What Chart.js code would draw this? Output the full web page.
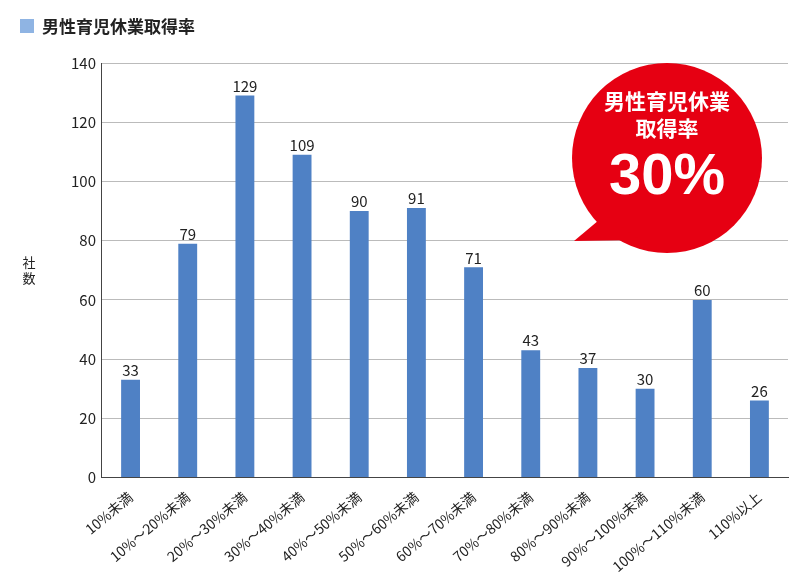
<!DOCTYPE html>
<html><head><meta charset="utf-8">
<script src="https://cdn.jsdelivr.net/npm/chart.js@4"></script>
<style>body{margin:0;background:#fff}#w{width:800px;height:582px}</style>
</head><body><div id="w"><canvas id="c"></canvas></div>
<script>
const categories=["10%未満","10%～20%未満","20%～30%未満","30%～40%未満","40%～50%未満","50%～60%未満","60%～70%未満","70%～80%未満","80%～90%未満","90%～100%未満","100%～110%未満","110%以上"];
const values=[33,79,129,109,90,91,71,43,37,30,60,26];
const seriesName="男性育児休業取得率";
const yTitle="社数";
const bubbleLines=["男性育児休業","取得率","30%"];
const F='"Noto Sans CJK JP","Noto Sans",sans-serif';
const extra={id:'extra',
afterDatasetsDraw(ch){const c=ch.ctx;const m=ch.getDatasetMeta(0);
c.save();c.fillStyle='#222';c.font='15px '+F;c.textAlign='center';c.textBaseline='bottom';
m.data.forEach((b,i)=>c.fillText(values[i],b.x,b.y-2));c.restore();},
afterDraw(ch){const c=ch.ctx;c.save();
c.fillStyle='#8fb4e3';c.fillRect(20,19,14,14);
c.fillStyle='#222';c.font='bold 17px '+F;c.textBaseline='middle';c.textAlign='left';c.fillText(seriesName,42,27);
c.font='13px '+F;c.textAlign='center';[...yTitle].forEach((ch2,i)=>c.fillText(ch2,29,262+i*16));
c.fillStyle='#e60012';c.beginPath();c.arc(667,158,95,0,Math.PI*2);c.fill();
c.beginPath();c.moveTo(605,215);c.lineTo(574,241);c.lineTo(640,240);c.closePath();c.fill();
c.fillStyle='#fff';c.font='bold 21px '+F;c.fillText(bubbleLines[0],667,101);c.fillText(bubbleLines[1],667,128);
c.font='bold 58px "Liberation Sans",Arial,sans-serif';c.fillText(bubbleLines[2],667,178);
c.restore();}};
new Chart(document.getElementById('c'),{type:'bar',
data:{labels:categories,datasets:[{label:seriesName,data:values,backgroundColor:'#4f81c5',barPercentage:0.33,categoryPercentage:1}]},
options:{responsive:true,maintainAspectRatio:false,animation:false,
layout:{padding:{top:63,right:12,left:65,bottom:4}},
plugins:{legend:{display:false},tooltip:{enabled:false}},
scales:{y:{min:0,max:140,ticks:{stepSize:20,color:'#222',padding:6,font:{size:15,family:F}},grid:{color:'#bbb',drawTicks:false},border:{color:'#444'}},
x:{grid:{display:false},border:{color:'#444'},ticks:{color:'#222',minRotation:40,maxRotation:40,font:{size:14,family:F}}}}},
plugins:[extra]});
</script></body></html>
